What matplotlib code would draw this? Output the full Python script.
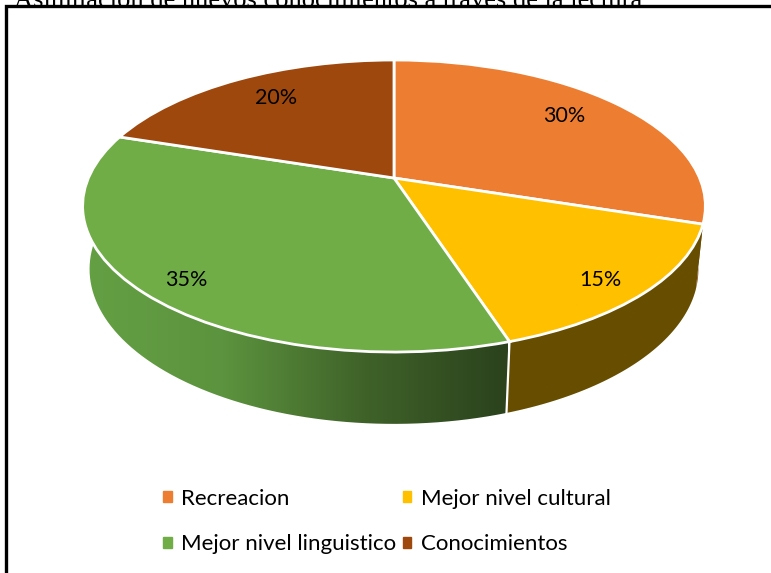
import numpy as np
import matplotlib
matplotlib.use('Agg')
import matplotlib.pyplot as plt
from matplotlib.patches import Patch, Polygon, Rectangle
from matplotlib.transforms import Transform
from matplotlib.colors import LinearSegmentedColormap

title = 'Asimilación de nuevos conocimientos a través de la lectura'
labels = ['Recreacion', 'Mejor nivel cultural', 'Mejor nivel linguistico', 'Conocimientos']
values = [30, 15, 35, 20]
colors = ['#ED7D31', '#FFC000', '#70AD47', '#9E480E']
side_colors = ['#8E4B1D', '#664D00', '#43682B', '#5F2B08']

# perspective fitted to the picture: unit circle -> pixels
CX, SX, BY, AY, PERSP = 394, 305.6, 178, -106.5, 0.1918
DEPTH_D, DEPTH_E = 0.022, 67.4


def project(xy, low=0.0):
    u, v = xy[:, 0], xy[:, 1]
    den = 1 + PERSP * v + DEPTH_D * low
    return np.column_stack([CX + SX * u / den, (BY + AY * v + DEPTH_E * low) / den])


class TiltTransform(Transform):
    input_dims = output_dims = 2
    is_affine = False

    def transform_non_affine(self, xy):
        return project(np.asarray(xy, dtype=float))


def side_poly(a, b):
    # a, b in degrees clockwise from the top
    t = np.radians(np.linspace(a, b, 80))
    rim = np.column_stack([np.sin(t), np.cos(t)])
    return np.vstack([project(rim), project(rim[::-1], 1.0)])


plt.rcParams['font.family'] = ['Lato', 'DejaVu Sans']
fig = plt.figure(figsize=(7.71, 5.73), dpi=100)
ax = fig.add_axes([0, 0, 1, 1])

edges = np.cumsum([0] + values) * 3.6

# pie top, bent onto the tilted disc
wedges, _ = ax.pie(values, colors=colors, startangle=90, counterclock=False,
                   wedgeprops={'edgecolor': 'white', 'linewidth': 2.0})
tilt = TiltTransform() + ax.transData
for w in wedges:
    w.set_transform(tilt)
    w.set_zorder(5)

ax.set_aspect('auto')
ax.set_xlim(0, 771)
ax.set_ylim(573, 0)
ax.axis('off')

# title is cut by the top of the image and by the frame
ax.text(14, 7, title, family='Liberation Serif', fontsize=19.05, color='black',
        va='baseline', ha='left', zorder=1, clip_on=True)
ax.add_patch(Rectangle((5.5, 5.5), 780, 580, facecolor='white', edgecolor='black',
                       linewidth=2.4, zorder=2))

# side walls
for i in [3, 0, 1, 2]:
    pts = side_poly(edges[i], edges[i + 1])
    if labels[i] == 'Mejor nivel linguistico':
        cmap = LinearSegmentedColormap.from_list('g', ['#64A044', '#5C933E', '#3F6229', '#2B421D'])
        grad = np.linspace(0, 1, 256)[None, :]
        im = ax.imshow(grad, cmap=cmap, extent=(80, 508, 430, 130), aspect='auto', zorder=3)
        im.set_clip_path(Polygon(pts, transform=ax.transData))
    else:
        ax.fill(pts[:, 0], pts[:, 1], color=side_colors[i], lw=0, zorder=3)

# seam between front walls
seam = np.radians(edges[2])
p = np.array([[np.sin(seam), np.cos(seam)]])
p0, p1 = project(p)[0], project(p, 1.0)[0]
ax.plot([p0[0], p1[0]], [p0[1], p1[1]], color='white', lw=1.6, zorder=4)

ax.set_xlim(0, 771)
ax.set_ylim(573, 0)

# percent labels
label_xy = [(564, 116), (600, 280), (186, 280), (276, 98)]
for v, (x, y) in zip(values, label_xy):
    ax.text(x, y, f'{v}%', ha='center', va='center', fontsize=15.5, color='black', zorder=6)

handles = [Patch(color=c) for c in colors]
order = [0, 2, 1, 3]
ax.legend([handles[i] for i in order], [labels[i] for i in order], ncol=2,
          loc='center', bbox_to_anchor=(387, 521.5), bbox_transform=ax.transData,
          frameon=False, fontsize=16, handlelength=0.38, handleheight=0.38,
          handletextpad=0.42, columnspacing=0.3, labelspacing=1.15, borderpad=0)

fig.savefig('out.png', dpi=100)
